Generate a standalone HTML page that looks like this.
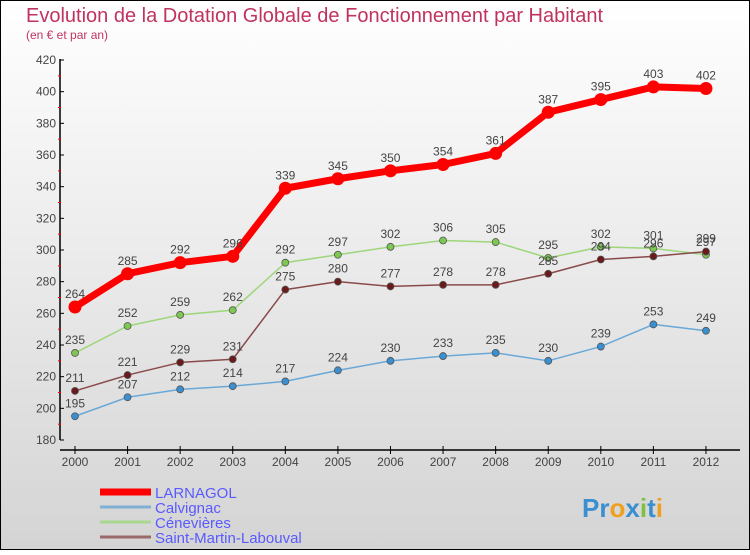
<!DOCTYPE html>
<html><head><meta charset="utf-8"><style>
body{margin:0}
#c{width:750px;height:550px;position:relative;font-family:"Liberation Sans",sans-serif}
</style></head><body>
<div id="c">
<svg id="s" width="750" height="550" xmlns="http://www.w3.org/2000/svg">
<defs><linearGradient id="bg" x1="0" y1="0" x2="0" y2="1"><stop offset="0" stop-color="#ffffff"/><stop offset="1" stop-color="#d4d4d4"/></linearGradient></defs>
<rect x="0.5" y="0.5" width="749" height="549" fill="url(#bg)" stroke="#000"/>
<text x="26" y="22" font-size="20" fill="#c0335f">Evolution de la Dotation Globale de Fonctionnement par Habitant</text>
<text x="26" y="39" font-size="12" fill="#c0335f">(en € et par an)</text>
<g id="axes"></g><g id="series"></g><g id="legend"></g>
<text x="582" y="517" font-size="26" font-weight="bold"><tspan fill="#3a8fd0">Pr</tspan><tspan fill="#f0a020">o</tspan><tspan fill="#3a8fd0">x</tspan><tspan fill="#80c040">i</tspan><tspan fill="#3a8fd0">t</tspan><tspan fill="#f0a020">i</tspan></text>
</svg></div>
<script>
const years=[2000,2001,2002,2003,2004,2005,2006,2007,2008,2009,2010,2011,2012];
const larnagol=[264,285,292,296,339,345,350,354,361,387,395,403,402];
const calvignac=[195,207,212,214,217,224,230,233,235,230,239,253,249];
const cenevieres=[235,252,259,262,292,297,302,306,305,295,302,301,297];
const saintMartin=[211,221,229,231,275,280,277,278,278,285,294,296,299];
const yTicks=[180,200,220,240,260,280,300,320,340,360,380,400,420];
const NS="http://www.w3.org/2000/svg";
const x=i=>75+i*52.58;
const y=v=>440-(v-180)*(380/240);
function mk(t,a,p){const e=document.createElementNS(NS,t);for(const k in a)e.setAttribute(k,a[k]);p.appendChild(e);return e;}
const ax=document.getElementById('axes');
let e=mk('line',{x1:60,y1:59,x2:60,y2:440,stroke:'#000','stroke-width':1.5},ax);

e=mk('line',{x1:60,y1:450,x2:740,y2:450,stroke:'#000','stroke-width':1.5},ax);

yTicks.forEach((v,i)=>{
 mk('line',{x1:60,y1:y(v),x2:64,y2:y(v),stroke:'#000'},ax);
 if(i<yTicks.length-1)mk('line',{x1:58,y1:y(v+10),x2:61,y2:y(v+10),stroke:'#f00'},ax);
 const t=mk('text',{x:56,y:y(v)+4,'font-size':12,fill:'#444','text-anchor':'end'},ax);t.textContent=v;
 
});
years.forEach((yr,i)=>{
 mk('line',{x1:x(i),y1:446,x2:x(i),y2:454,stroke:'#000'},ax);
 const t=mk('text',{x:x(i),y:466,'font-size':12,fill:'#444','text-anchor':'middle'},ax);t.textContent=yr;
 
});
const sg=document.getElementById('series');
function draw(vals,color,dot,w,r,name){
 const g=mk('g',{},sg);
 
 const p=mk('polyline',{points:vals.map((v,i)=>x(i)+','+y(v)).join(' '),fill:'none',stroke:color,'stroke-width':w,'stroke-linejoin':'round'},g);
 
 vals.forEach((v,i)=>{
  const c=mk('circle',{cx:x(i),cy:y(v),r:r,fill:dot,stroke:color==='#f00'?'none':'#555','stroke-width':0.8},g);
  
  const t=mk('text',{x:x(i),y:y(v)-9,'font-size':12,fill:'#444','text-anchor':'middle'},g);t.textContent=v;
  
 });
}
draw(calvignac,'#6aa8d8','#3a8fd0',1.5,3.5,'calvignac');
draw(cenevieres,'#9ed67a','#7cc850',1.5,3.5,'cenevieres');
draw(saintMartin,'#8a4a4a','#6a1a1a',1.5,3.5,'saint-martin-labouval');
draw(larnagol,'#f00','#f00',7,6.5,'larnagol');
const lg=document.getElementById('legend');
const names=['LARNAGOL','Calvignac','Cénevières','Saint-Martin-Labouval'];
const cols=['#f00','#7fb0d4','#a8d890','#9a6a6a'];
const ws=[7,3,3,3];
names.forEach((n,i)=>{
 const yy=492+i*15;
 const g=mk('g',{},lg);
 
 mk('line',{x1:100,y1:yy,x2:151,y2:yy,stroke:cols[i],'stroke-width':ws[i]},g);
 const t=mk('text',{x:155,y:yy+6,'font-size':15,fill:'#5a5aff'},g);t.textContent=n;
});
</script>
</body></html>
